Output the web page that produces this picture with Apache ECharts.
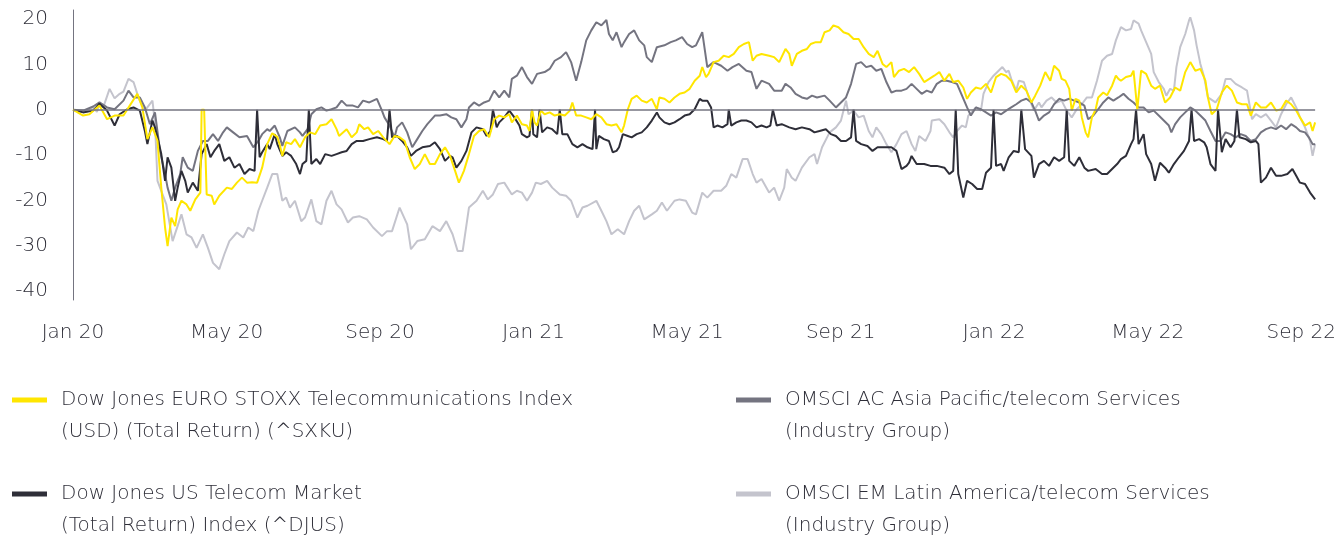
<!DOCTYPE html>
<html>
<head>
<meta charset="utf-8">
<script src="https://cdn.jsdelivr.net/npm/echarts@6/dist/echarts.min.js"></script>
<style>
  html, body { margin: 0; padding: 0; background: #fff; }
  #chart { width: 1339px; height: 536px; }
</style>
</head>
<body>
<div id="chart"></div>
<script>
// x values are days since 1 Jan 2020, y values are % return
var tickStep = 121.75
var tickLabels = ['Jan 20', 'May 20', 'Sep 20', 'Jan 21', 'May 21', 'Sep 21', 'Jan 22', 'May 22', 'Sep 22']

var sxku = [[0,0],[8,-1.3],[13,-1],[21,0.9],[27,-2.1],[33,-1.3],[40,-1.3],[45,0.9],[51,3.5],[55,0.5],[59,-6.5],[63,-3.9],[67,-6.9],[70,-17.2],[73,-26],[75,-30.1],[78,-23.8],[81,-25.7],[83,-22],[86,-20.1],[90,-20.9],[93,-22.3],[97,-19.8],[101,-18.3],[102,0],[104,0],[106,-18.7],[110,-19],[112,-20.9],[116,-19],[122,-17.2],[126,-17.5],[130,-16.1],[134,-15],[138,-16.1],[142,-16],[146,-16.1],[150,-12.8],[154,-7.6],[158,-5.2],[162,-6],[164,-7.8],[166,-10.2],[169,-7.2],[173,-7.6],[176,-6.5],[180,-8.3],[184,-6.1],[188,-5],[192,-5.4],[196,-3.5],[201,-3.2],[205,-2.1],[209,-4.3],[211,-5.8],[217,-4.3],[221,-6.1],[225,-5],[227,-3.2],[231,-4.3],[234,-3.9],[238,-5.4],[242,-4.7],[246,-6.1],[251,-7.6],[255,-5.8],[259,-6.1],[263,-6.9],[267,-10.5],[271,-13.1],[275,-12],[279,-9.8],[283,-12],[287,-12],[291,-9.8],[295,-8.3],[299,-10.2],[303,-13.5],[306,-16.1],[310,-13.5],[314,-9.8],[318,-5.8],[322,-4.7],[326,-4.3],[330,-6.1],[334,-2.1],[338,-1.3],[342,-1.7],[346,-1],[348,-2.8],[352,-1.3],[356,-3.2],[360,-3.5],[362,-4.7],[364,0],[366,-2.8],[368,-3.5],[371,-0.2],[374,-1],[378,-0.6],[382,-1.3],[386,-1],[390,-1.3],[394,-0.2],[396,1.6],[399,-1.3],[403,-1.3],[407,-1.7],[411,-2.1],[415,-1],[419,-1.7],[423,-3.2],[427,-3.5],[431,-3.2],[435,-5],[437,-3.5],[440,0.1],[443,2.4],[447,3.1],[451,2],[455,1.6],[459,2.4],[463,0.1],[465,2.7],[469,2.4],[473,1.6],[477,2.7],[481,3.5],[485,3.8],[489,4.6],[493,6.4],[497,7.5],[499,9.4],[502,7.2],[504,7.9],[508,10.5],[512,10.8],[516,11.9],[520,11.6],[524,12.3],[528,13.8],[532,14.5],[536,14.9],[539,10.8],[542,11.9],[546,12.3],[552,11.9],[556,11.6],[560,10.5],[565,13.4],[568,12.3],[570,9.7],[574,12.3],[578,13],[582,13.4],[585,14.5],[589,14.9],[593,14.9],[596,17.1],[600,17.5],[603,18.6],[607,18.2],[611,17.1],[615,16.7],[619,15.6],[623,15.6],[627,13.8],[631,12.3],[635,11.6],[638,13],[642,10.1],[645,9.4],[649,10.5],[651,7.2],[655,8.6],[659,9],[663,8.3],[667,9.4],[671,7.9],[675,6.1],[679,6.8],[683,7.5],[687,8.3],[691,6.4],[695,7.9],[698,6.1],[702,6.4],[706,4.9],[709,2.4],[712,3.8],[716,4.9],[720,4.6],[724,5.7],[728,3.8],[732,7.2],[736,7.9],[740,7.5],[744,6.4],[748,3.8],[752,5.3],[756,4.2],[760,1.6],[763,3.1],[767,5.3],[771,8.3],[775,6.4],[778,9.7],[782,8.6],[784,6.8],[787,6.4],[790,4.6],[792,-0.2],[795,2.4],[798,2],[800,-1.7],[803,-5],[805,-6.1],[808,-1.7],[811,0.1],[813,2.7],[817,3.8],[820,3.2],[824,5.3],[827,7.5],[829,6.8],[831,6.4],[835,7.2],[839,7.5],[841,8.6],[844,0],[847,8.6],[851,7.9],[855,5.3],[858,4.6],[862,5.3],[866,1.6],[870,2.7],[874,4.9],[878,4.2],[882,8.3],[886,10.5],[890,8.6],[894,9],[898,6.4],[900,2.7],[903,-1],[907,0.1],[911,3.8],[915,5.3],[919,4.2],[923,1.6],[927,1.2],[931,1.2],[934,-1.3],[938,1.6],[942,0.5],[946,0.5],[950,1.6],[954,-0.2],[958,0.1],[962,2],[966,1.2],[970,-0.2],[973,-1.7],[977,-3.5],[981,-2.8],[983,-4.7],[985,-2.8]]

var djus = [[0,0],[8,-0.6],[16,-0.2],[21,1.3],[27,-0.2],[33,-3.5],[37,-1],[43,0.1],[48,0.5],[53,-0.2],[57,-4.7],[59,-7.6],[63,-2.4],[65,-3.9],[67,-6.1],[70,-9.8],[73,-15.7],[75,-10.5],[78,-12.8],[81,-20.1],[83,-17.2],[86,-13.5],[89,-15.7],[91,-18.3],[95,-16.1],[99,-17.9],[102,-9.8],[106,-7.6],[109,-10.5],[112,-9.1],[116,-7.6],[120,-11.3],[124,-10.5],[128,-12.8],[132,-12],[136,-14.2],[140,-13.1],[144,-13.5],[146,0],[148,-10.5],[150,-9.4],[154,-7.6],[156,-8.7],[160,-5.4],[162,-7.6],[166,-10.2],[169,-9.4],[173,-10.2],[177,-12],[180,-14.2],[182,-12],[185,-11.3],[187,0],[189,-12],[193,-10.9],[196,-12],[200,-9.8],[205,-10.2],[209,-9.8],[213,-9.4],[217,-9.1],[221,-7.6],[225,-6.9],[230,-6.9],[235,-6.5],[241,-6.1],[246,-6.5],[249,-6.9],[251,0],[253,-6.1],[257,-5.8],[261,-6.9],[265,-8.3],[268,-10.2],[272,-9.1],[277,-8.3],[283,-8],[287,-7.2],[291,-8.7],[295,-11.3],[299,-10.2],[301,-10.5],[304,-12.8],[308,-11.3],[312,-9.1],[316,-5],[320,-3.9],[325,-4.3],[328,-5.8],[331,-4.7],[333,0],[336,-3.9],[338,-2.8],[342,-1.7],[346,-0.2],[350,-1.7],[354,-3.5],[356,-5.4],[360,-6.1],[362,-5.8],[364,0],[365,-5.4],[368,-6.1],[370,0],[372,-5],[376,-3.9],[380,-4.3],[384,-5.4],[386,0],[388,-5.4],[392,-5.4],[396,-7.6],[400,-8.3],[404,-7.6],[408,-8.3],[412,-8.7],[414,0],[415,-8.7],[417,-5.8],[421,-6.5],[425,-6.9],[428,-9.4],[431,-9.1],[433,-8.3],[436,-5.4],[440,-5.8],[443,-6.1],[447,-5.4],[451,-5],[455,-3.9],[459,-2.4],[463,-0.6],[465,-1.7],[469,-2.8],[473,-3.2],[477,-2.8],[481,-2.1],[485,-1.3],[489,-1],[493,0.1],[497,2.4],[499,2],[503,2],[506,0.5],[508,-3.9],[511,-3.5],[515,-3.9],[519,-3.2],[520,0],[522,-3.5],[526,-2.8],[530,-2.4],[534,-2.4],[538,-2.8],[542,-3.9],[546,-3.5],[550,-3.9],[553,-3.5],[555,0],[558,-3.5],[562,-3.2],[568,-3.9],[573,-4.3],[578,-3.9],[584,-4.3],[588,-5],[592,-4.7],[597,-4.3],[601,-5.4],[605,-5.8],[609,-6.9],[613,-6.9],[617,-6.1],[619,0],[621,-6.9],[625,-7.6],[630,-8],[634,-9.1],[638,-8.3],[643,-8.3],[649,-8.3],[653,-9.1],[657,-13.1],[661,-12.4],[663,-11.7],[665,-10.2],[669,-12],[675,-12],[680,-12.4],[685,-12.4],[691,-12.8],[695,-14.2],[698,-13.5],[700,0],[702,-14.2],[706,-19.4],[709,-15.7],[713,-16.4],[717,-17.5],[721,-17.5],[724,-13.9],[728,-12.8],[730,0],[732,-12.4],[736,-12],[738,-13.5],[742,-10.5],[746,-9.1],[750,-9.4],[752,0],[755,-8.7],[760,-10.2],[762,-15],[766,-12],[770,-11.3],[774,-12.4],[778,-10.5],[782,-11.3],[786,-10.5],[788,0],[790,-11.3],[794,-12.4],[798,-10.5],[802,-12.8],[805,-13.5],[811,-13.1],[816,-14.2],[820,-14.2],[824,-13.1],[828,-12],[831,-10.9],[835,-10.2],[839,-7.6],[841,-6.5],[843,0],[845,-7.6],[849,-5.4],[851,-9.8],[855,-12],[858,-15.7],[862,-11.7],[866,-12.8],[869,-13.9],[873,-12],[877,-10.5],[881,-9.1],[885,-6.9],[887,0],[889,-6.9],[893,-6.5],[897,-7.2],[899,-8.3],[902,-12],[906,-13.5],[908,0],[911,-9.4],[914,-6.5],[918,-8.3],[921,-6.9],[923,0],[925,-6.1],[930,-6.5],[934,-7.2],[938,-6.9],[940,-7.6],[942,-16.1],[946,-15],[950,-12.8],[954,-14.6],[958,-14.6],[963,-14.2],[967,-13.1],[970,-14.6],[973,-16.1],[977,-16.4],[981,-18.3],[985,-19.8]]

var asiaPac = [[0,0],[8,-0.2],[16,0.7],[21,1.6],[27,0.5],[33,0.1],[40,2],[44,4.2],[48,2.7],[53,2.7],[57,0.5],[61,-3.2],[65,-0.6],[69,-9.1],[73,-14.2],[75,-17.2],[78,-20.1],[81,-17.2],[85,-14.2],[87,-10.5],[91,-12.8],[95,-13.5],[99,-9.1],[103,-6.9],[107,-6.9],[111,-5.4],[115,-6.9],[119,-5],[122,-3.9],[127,-5],[132,-6.1],[138,-5.8],[143,-8.3],[147,-6.9],[150,-5.4],[154,-4.3],[156,-4.7],[160,-3.5],[164,-6.1],[166,-8],[170,-4.7],[176,-3.9],[180,-5],[182,-5.8],[186,-4.3],[189,-1],[193,0.1],[197,0.5],[201,-0.2],[205,0.1],[209,0.5],[213,2],[217,0.9],[222,0.9],[226,0.5],[230,2],[235,1.6],[241,2.4],[245,-0.2],[247,-1.7],[251,-3.5],[255,-6.1],[257,-3.9],[261,-2.8],[265,-5],[269,-8.3],[273,-6.5],[277,-4.7],[281,-3.2],[287,-1.3],[291,-1.3],[296,-1],[300,-1.7],[304,-2.1],[308,-3.9],[312,-2.1],[314,0.5],[318,1.6],[322,0.9],[326,1.6],[330,2],[334,4.2],[338,2.7],[342,4.2],[346,2.7],[348,6.8],[352,7.5],[356,9.4],[360,7.2],[364,5.7],[368,7.9],[374,8.3],[378,9],[382,10.8],[387,11.6],[391,12.7],[395,10.5],[399,6.4],[403,10.5],[407,15.3],[411,17.5],[415,19.3],[419,18.6],[423,19.8],[425,16.7],[428,15.3],[431,17.1],[435,13.8],[437,14.9],[441,16.7],[445,17.5],[449,15.3],[453,14.2],[455,11.6],[459,10.5],[463,13.8],[469,14.2],[474,14.9],[478,15.3],[483,16],[487,14.5],[491,13.8],[494,14.2],[499,17.1],[503,9.4],[508,10.5],[514,9.7],[519,8.6],[523,9.4],[528,10.1],[534,8.6],[538,8.3],[542,4.6],[546,6.4],[552,5.7],[556,4.2],[562,4.2],[565,5.7],[569,4.9],[573,3.5],[578,2.7],[582,2.4],[586,3.1],[590,2.7],[596,3.1],[600,2],[605,0.5],[609,1.6],[613,2.7],[617,5.7],[621,10.1],[625,10.5],[629,9.4],[633,9.7],[637,8.6],[641,9],[645,6.1],[649,3.8],[653,4.2],[657,4.2],[661,4.6],[665,5.7],[669,4.6],[673,3.5],[677,4.2],[681,3.8],[685,5.7],[689,6.4],[693,6.4],[697,6.1],[701,5.7],[705,3.1],[709,0.5],[712,-1.3],[716,0.5],[720,0.1],[724,-0.6],[728,-1.3],[732,-0.6],[736,-1],[740,-0.2],[744,0.5],[748,1.2],[752,2],[756,2.4],[760,1.6],[763,-0.2],[766,-2.4],[770,-1.3],[774,-0.6],[778,1.2],[782,2.4],[786,2],[790,2.4],[794,2],[798,1.6],[802,0.9],[805,-2.1],[809,-1.3],[813,0.1],[817,1.6],[821,2.7],[825,2],[829,2.7],[833,3.5],[837,2.4],[841,1.6],[845,0.5],[849,0.5],[853,-0.6],[857,-0.2],[861,-1.3],[865,-2.4],[869,-3.5],[871,-5],[874,-3.2],[878,-1.7],[882,-0.6],[886,0.5],[890,-0.2],[894,-1.3],[898,-2.4],[902,-4.7],[906,-6.9],[910,-6.9],[914,-5],[918,-5.4],[922,-6.1],[926,-5.4],[930,-5.8],[934,-6.9],[938,-6.5],[942,-5],[946,-4.3],[950,-3.9],[954,-4.3],[958,-3.5],[962,-4.3],[966,-3.2],[970,-3.9],[973,-4.7],[977,-5],[980,-6.1],[983,-7.6],[985,-7.6]]

var latam = [[0,0],[8,-0.5],[16,0.5],[19,-0.5],[21,1.5],[24,0.5],[29,4.6],[33,2.5],[37,3.5],[40,4],[44,6.8],[48,6.1],[51,3.5],[53,2],[57,-0.2],[63,2],[65,-3],[67,-15.7],[74,-20.9],[79,-29],[86,-23.1],[90,-27.5],[94,-28.2],[98,-30.5],[103,-27.5],[107,-30.5],[111,-33.8],[116,-35.2],[120,-31.9],[124,-29],[130,-27.1],[135,-28.2],[139,-26],[143,-26.8],[147,-22.3],[150,-20.1],[154,-17.2],[158,-14.2],[162,-14.2],[166,-20.1],[169,-19.4],[172,-21.6],[176,-20.1],[181,-24.6],[184,-23.8],[189,-19.8],[193,-24.6],[197,-25.3],[201,-20.1],[205,-17.9],[209,-20.9],[213,-22],[218,-24.9],[222,-23.8],[227,-23.5],[233,-24.2],[238,-26],[245,-27.9],[249,-26.8],[253,-26.8],[259,-21.6],[265,-25.3],[268,-30.8],[273,-29],[279,-28.6],[285,-25.7],[291,-26.8],[296,-24.6],[301,-27.5],[305,-31.2],[309,-31.2],[314,-21.6],[320,-20.1],[325,-17.9],[329,-19.8],[333,-18.7],[337,-16.4],[342,-16.1],[348,-18.7],[352,-17.9],[356,-18.3],[360,-20.1],[364,-18.3],[367,-16.1],[371,-16.4],[376,-15.7],[380,-17.2],[386,-18.7],[391,-19],[395,-20.1],[400,-23.8],[404,-21.6],[408,-21.2],[415,-20.1],[419,-22.3],[423,-24.6],[427,-27.5],[432,-26.4],[437,-27.5],[441,-24.6],[445,-22.3],[449,-21.2],[453,-24.2],[459,-23.1],[463,-22.3],[467,-20.5],[471,-22.3],[477,-20.1],[481,-19.8],[486,-20.1],[491,-22.7],[494,-23.1],[499,-18.3],[503,-19.4],[508,-17.9],[514,-17.9],[518,-16.8],[522,-14.2],[526,-15],[531,-10.9],[535,-10.9],[539,-14.2],[542,-16.1],[546,-15.3],[552,-18.3],[556,-17.2],[560,-20.1],[564,-17.2],[566,-13.1],[570,-15],[573,-15.7],[578,-12.8],[584,-10.5],[588,-9.8],[590,-12],[594,-8.3],[600,-5],[605,-3.9],[609,-2.4],[611,-0.2],[613,2],[615,-1],[619,-0.2],[623,-1.7],[627,-1.3],[631,-4.7],[634,-6.1],[637,-3.9],[641,-5.4],[645,-7.6],[649,-9.4],[653,-7.6],[657,-5.4],[661,-4.7],[665,-7.6],[668,-9.1],[671,-5.8],[676,-6.9],[680,-4.7],[681,-2.4],[687,-2.1],[691,-3.2],[695,-5],[698,-6.1],[701,-4.7],[705,-3.5],[708,-3.9],[710,-1.3],[716,0.5],[720,-0.2],[722,3.5],[726,6.1],[730,7.5],[734,8.6],[737,9.4],[740,8.3],[742,8.6],[744,6.8],[748,4.2],[750,6.4],[754,6.1],[758,2.7],[762,-0.2],[766,1.6],[768,0.5],[772,2],[776,2.7],[780,1.6],[784,2],[788,-0.2],[792,-1.7],[796,0.1],[800,1.2],[804,2.7],[808,2.7],[812,6.4],[816,10.8],[820,11.9],[824,12.3],[827,15.3],[831,18.2],[835,17.5],[839,17.8],[841,19.7],[845,19],[847,17.5],[851,14.9],[855,12.3],[857,8.3],[861,6.1],[865,4.6],[867,3.1],[870,4.6],[873,4.2],[875,9.4],[878,13.8],[882,16.7],[885,19.7],[886,20.4],[889,17.5],[891,14.2],[894,10.1],[897,7.2],[900,2.7],[906,1.6],[911,3.5],[914,6.8],[918,6.8],[922,5.7],[927,4.9],[931,4.2],[935,-2.1],[938,-1],[942,-1.7],[946,-1],[950,-2.4],[954,-3.9],[958,-1],[962,1.2],[966,2.7],[970,0.5],[973,-1.7],[977,-3.9],[981,-6.9],[983,-10.2],[985,-7.6]]

var nameSxku = 'Dow Jones EURO STOXX Telecommunications Index\n(USD) (Total Return) (^SXKU)'
var nameDjus = 'Dow Jones US Telecom Market\n(Total Return) Index (^DJUS)'
var nameAsia = 'OMSCI AC Asia Pacific/telecom Services\n(Industry Group)'
var nameLatam = 'OMSCI EM Latin America/telecom Services\n(Industry Group)'

var textColor = '#2e2e38'
var fontFamily = '"DejaVu Sans", sans-serif'

var myChart = echarts.init(document.getElementById('chart'))

function legendBlock(left, names) {
  return {
    left: left,
    top: 352,
    height: 260,
    orient: 'vertical',
    padding: 0,
    itemGap: -2,
    itemWidth: 35,
    itemHeight: 5,
    icon: 'rect',
    selectedMode: false,
    data: names,
    // blank first line keeps the icon level with the first text line
    formatter: function (name) {
      return '\n' + name
    },
    textStyle: {
      color: textColor,
      fontFamily: fontFamily,
      fontWeight: 300,
      fontSize: 20,
      lineHeight: 32,
      padding: [0, 0, 0, 9]
    }
  }
}

function lineSeries(name, data, color) {
  return {
    name: name,
    type: 'line',
    data: data,
    symbol: 'none',
    showSymbol: false,
    lineStyle: { color: color, width: 2 },
    itemStyle: { color: color },
    emphasis: { disabled: true }
  }
}

var option = {
  animation: false,
  backgroundColor: '#fff',
  grid: {
    left: 73,
    right: 22,
    top: 10,
    bottom: 236
  },
  legend: [
    legendBlock(12, [nameSxku, nameDjus]),
    legendBlock(736, [nameAsia, nameLatam])
  ],
  xAxis: {
    type: 'value',
    min: 0,
    max: 985,
    interval: tickStep,
    axisLine: { show: false },
    axisTick: { show: false },
    splitLine: { show: false },
    axisLabel: {
      margin: 23,
      color: textColor,
      fontFamily: fontFamily,
      fontWeight: 300,
      fontSize: 20,
      formatter: function (v) {
        var i = Math.round(v / tickStep)
        if (Math.abs(v - i * tickStep) > 1) return ''
        return tickLabels[i] || ''
      }
    }
  },
  yAxis: {
    type: 'value',
    min: -42,
    max: 22,
    interval: 2,
    axisLine: { show: true, lineStyle: { color: '#747480', width: 1 } },
    axisTick: { show: false },
    splitLine: { show: false },
    axisLabel: {
      margin: 25,
      color: textColor,
      fontFamily: fontFamily,
      fontWeight: 300,
      fontSize: 20,
      formatter: function (v) {
        return v % 10 === 0 ? String(v) : ''
      }
    }
  },
  series: [
    Object.assign(lineSeries(nameLatam, latam, '#c4c4cd'), {
      markLine: {
        silent: true,
        symbol: ['none', 'none'],
        label: { show: false },
        lineStyle: { color: '#747480', width: 1.5, type: 'solid' },
        data: [{ yAxis: 0 }]
      }
    }),
    lineSeries(nameAsia, asiaPac, '#747480'),
    lineSeries(nameDjus, djus, '#2e2e38'),
    lineSeries(nameSxku, sxku, '#ffe600')
  ]
}

myChart.setOption(option)
</script>
</body>
</html>
